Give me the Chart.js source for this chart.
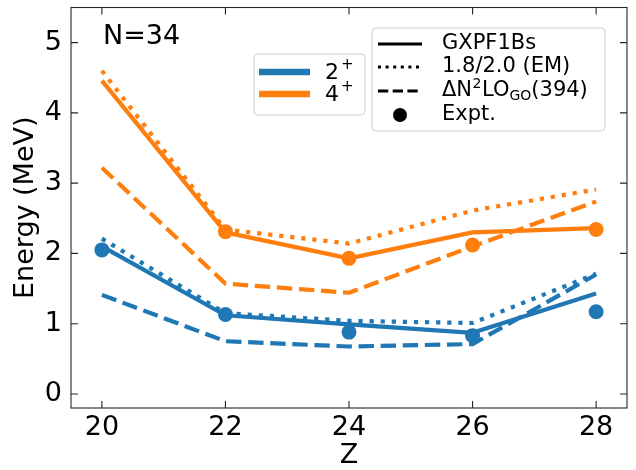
<!DOCTYPE html>
<html><head><meta charset="utf-8">
<script src="https://cdn.jsdelivr.net/npm/chart.js@4/dist/chart.umd.min.js"></script>
<style>html,body{margin:0;padding:0;background:#fff;}canvas{display:block;}</style>
</head><body>
<canvas id="c" width="636" height="470"></canvas>
<script>
// ---- data ----
const zValues = [20, 22, 24, 26, 28];
const yTickValues = [0, 1, 2, 3, 4, 5];
// 2+ states
const gxpf2  = [2.10, 1.12, 0.99, 0.87, 1.43];
const em2    = [2.21, 1.15, 1.04, 1.01, 1.71];
const dn2lo2 = [1.41, 0.75, 0.675, 0.71, 1.70];
const expt2  = [2.05, 1.13, 0.88, 0.83, 1.17];
// 4+ states
const gxpf4  = [4.46, 2.30, 1.93, 2.30, 2.36];
const em4    = [4.60, 2.34, 2.14, 2.61, 2.91];
const dn2lo4 = [3.22, 1.57, 1.44, 2.10, 2.74];
const expt4  = [null, 2.31, 1.93, 2.12, 2.34];

const BLUE = '#1f77b4', ORANGE = '#ff7f0e';
const FONT = '"DejaVu Sans", sans-serif';
const LW = 4.2;
const DASH = [15.4, 6.7], DOT = [4.2, 6.9];

function pts(arr){ return zValues.map((z,i)=>({x:z, y:arr[i]})); }
function lineDs(arr, color, dash){
  return {data: pts(arr), borderColor: color, backgroundColor: color, borderWidth: LW,
          borderDash: dash, borderCapStyle: 'butt', borderJoinStyle: 'round',
          pointRadius: 0, pointHoverRadius: 0, showLine: true, fill: false, tension: 0};
}
function exptDs(arr, color){
  return {data: pts(arr), borderColor: color, backgroundColor: color, borderWidth: 0,
          pointRadius: 7.5, pointHoverRadius: 7.5, showLine: false};
}

const decor = {
  id: 'decor',
  afterDraw(chart){
    const {ctx, chartArea: a, scales: {x, y}} = chart;
    ctx.save();
    // frame
    ctx.strokeStyle = '#262626'; ctx.lineWidth = 1.1;
    ctx.strokeRect(a.left, a.top, a.right - a.left, a.bottom - a.top);
    // inward ticks
    const L = 7;
    ctx.beginPath();
    zValues.forEach(v => { const p = x.getPixelForValue(v);
      ctx.moveTo(p, a.bottom); ctx.lineTo(p, a.bottom - L);
      ctx.moveTo(p, a.top); ctx.lineTo(p, a.top + L); });
    yTickValues.forEach(v => { const p = y.getPixelForValue(v);
      ctx.moveTo(a.left, p); ctx.lineTo(a.left + L, p);
      ctx.moveTo(a.right, p); ctx.lineTo(a.right - L, p); });
    ctx.stroke();

    // axis titles
    ctx.fillStyle = '#000';
    ctx.font = '27px ' + FONT;
    ctx.textAlign = 'center'; ctx.textBaseline = 'middle';
    ctx.fillText('Z', (a.left + a.right) / 2, 456);
    ctx.save();
    ctx.translate(26, (a.top + a.bottom) / 2);
    ctx.rotate(-Math.PI / 2);
    ctx.fillText('Energy (MeV)', 0, 0);
    ctx.restore();

    // N=34
    ctx.textAlign = 'left'; ctx.textBaseline = 'alphabetic';
    ctx.font = '27px ' + FONT;
    ctx.fillText('N=34', 103, 44);

    // legend box helper
    function box(x0, y0, x1, y1){
      const r = 4;
      ctx.beginPath();
      ctx.moveTo(x0 + r, y0); ctx.lineTo(x1 - r, y0); ctx.quadraticCurveTo(x1, y0, x1, y0 + r);
      ctx.lineTo(x1, y1 - r); ctx.quadraticCurveTo(x1, y1, x1 - r, y1);
      ctx.lineTo(x0 + r, y1); ctx.quadraticCurveTo(x0, y1, x0, y1 - r);
      ctx.lineTo(x0, y0 + r); ctx.quadraticCurveTo(x0, y0, x0 + r, y0);
      ctx.closePath();
      ctx.fillStyle = 'rgba(255,255,255,0.8)'; ctx.fill();
      ctx.strokeStyle = '#cccccc'; ctx.lineWidth = 1; ctx.stroke();
    }

    // legend 1: 2+ / 4+
    box(254, 54, 365, 115);
    [[BLUE, '2', 72], [ORANGE, '4', 94]].forEach(([c, t, yy]) => {
      ctx.strokeStyle = c; ctx.lineWidth = 6.5; ctx.setLineDash([]); ctx.lineCap = 'butt';
      ctx.beginPath(); ctx.moveTo(259, yy); ctx.lineTo(310, yy); ctx.stroke();
      ctx.fillStyle = '#000'; ctx.textBaseline = 'middle';
      ctx.font = '22px ' + FONT; ctx.fillText(t, 325, yy + 1);
      ctx.font = '15px ' + FONT; ctx.fillText('+', 341, yy - 7);
    });

    // legend 2: methods
    box(372, 28, 605, 131);
    const hx0 = 378, hx1 = 422, tx = 442;
    const rows = [44, 67, 91, 115];
    ctx.strokeStyle = '#000'; ctx.lineWidth = 3;
    [[], [3, 4.6], [10.3, 4.4]].forEach((d, i) => {
      ctx.setLineDash(d); ctx.beginPath();
      ctx.moveTo(hx0, rows[i]); ctx.lineTo(hx1, rows[i]); ctx.stroke();
    });
    ctx.setLineDash([]);
    ctx.fillStyle = '#000';
    ctx.beginPath(); ctx.arc((hx0 + hx1) / 2, rows[3], 7, 0, 2 * Math.PI); ctx.fill();
    ctx.font = '21px ' + FONT; ctx.textBaseline = 'middle'; ctx.textAlign = 'left';
    ctx.fillText('GXPF1Bs', tx, rows[0]);
    ctx.fillText('1.8/2.0 (EM)', tx, rows[1]);
    ctx.fillText('Expt.', tx, rows[3]);
    // ΔN²LO_GO(394)
    let cx = tx; const ry = rows[2];
    ctx.font = '21px ' + FONT;
    ctx.fillText('ΔN', cx, ry); cx += ctx.measureText('ΔN').width;
    ctx.font = '14px ' + FONT;
    ctx.fillText('2', cx + 0.5, ry - 7); cx += ctx.measureText('2').width + 1;
    ctx.font = '21px ' + FONT;
    ctx.fillText('LO', cx, ry); cx += ctx.measureText('LO').width;
    ctx.font = '14px ' + FONT;
    ctx.fillText('GO', cx, ry + 5); cx += ctx.measureText('GO').width;
    ctx.font = '21px ' + FONT;
    ctx.fillText('(394)', cx, ry);
    ctx.restore();
  }
};

new Chart(document.getElementById('c'), {
  type: 'scatter',
  data: {
    datasets: [
      exptDs(expt2, BLUE),
      exptDs(expt4, ORANGE),
      lineDs(gxpf2, BLUE, []),
      lineDs(gxpf4, ORANGE, []),
      lineDs(em2, BLUE, DOT),
      lineDs(em4, ORANGE, DOT),
      lineDs(dn2lo2, BLUE, DASH),
      lineDs(dn2lo4, ORANGE, DASH)
    ]
  },
  options: {
    responsive: false, animation: false,
    layout: {padding: {top: 6, right: 9, left: 0, bottom: 0}},
    plugins: {legend: {display: false}, tooltip: {enabled: false}, title: {display: false}},
    scales: {
      x: {
        type: 'linear', min: 19.5, max: 28.5, bounds: 'data',
        afterBuildTicks: s => { s.ticks = zValues.map(v => ({value: v})); },
        afterFit: s => { s.height = 62; s.paddingLeft = 0; s.paddingRight = 0; },
        grid: {display: false, drawTicks: false}, border: {display: false},
        ticks: {color: '#000', font: {family: FONT, size: 27}, padding: 4, maxRotation: 0, autoSkip: false}
      },
      y: {
        type: 'linear', min: -0.2, max: 5.5, bounds: 'data',
        afterBuildTicks: s => { s.ticks = yTickValues.map(v => ({value: v})); },
        afterFit: s => { s.width = 71; s.paddingTop = 0; s.paddingBottom = 0; },
        grid: {display: false, drawTicks: false}, border: {display: false},
        ticks: {color: '#000', font: {family: FONT, size: 27}, padding: 9, autoSkip: false}
      }
    }
  },
  plugins: [decor]
});
</script>
</body></html>
